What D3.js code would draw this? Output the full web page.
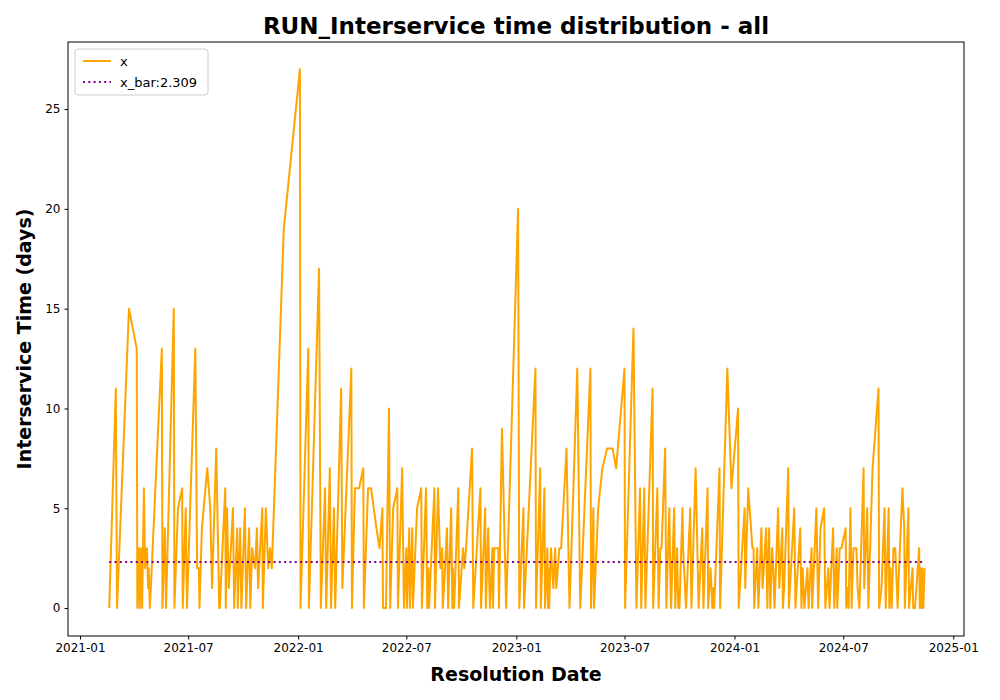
<!DOCTYPE html>
<html>
<head>
<meta charset="utf-8">
<script src="https://cdn.jsdelivr.net/npm/d3@7"></script>
<style>
body { margin: 0; background: #fff; }
text { font-family: "DejaVu Sans", sans-serif; }
</style>
</head>
<body>
<div id="chart"></div>
<script>
// days after 2021-01-01 and interservice time (days)
var dayOffsets = [49,60,62,82,95,96,99,100,102,104,107,109,112,114,115,117,137,138,142,144,157,158,164,171,172,177,179,193,196,199,200,204,213,218,221,228,233,234,243,244,246,249,256,258,263,264,268,270,276,278,283,285,288,293,296,298,305,306,311,315,318,321,341,368,369,382,383,400,403,410,412,418,420,425,427,437,439,454,455,460,467,474,475,482,487,496,501,506,507,512,517,519,524,531,532,539,542,546,547,551,552,556,557,564,571,572,579,581,583,584,593,594,599,603,606,607,609,614,616,621,623,624,626,633,634,641,643,646,656,658,670,671,678,679,683,685,686,690,691,693,700,701,706,713,733,735,742,743,762,763,770,771,777,778,782,783,784,785,788,792,795,797,802,805,814,819,832,837,854,855,859,860,867,874,882,891,897,911,912,926,931,937,939,944,946,958,959,966,968,971,973,979,981,986,988,989,994,996,999,1001,1003,1008,1009,1014,1021,1023,1030,1035,1041,1043,1050,1051,1055,1058,1060,1061,1070,1071,1083,1090,1101,1102,1112,1113,1118,1125,1127,1128,1133,1135,1140,1142,1148,1150,1153,1155,1158,1160,1162,1168,1170,1175,1176,1178,1185,1186,1195,1197,1205,1207,1209,1212,1217,1219,1224,1225,1232,1235,1239,1245,1247,1252,1254,1260,1262,1266,1267,1271,1274,1281,1282,1284,1286,1289,1291,1294,1299,1301,1304,1311,1312,1317,1319,1326,1336,1337,1341,1346,1348,1353,1354,1356,1358,1361,1364,1368,1369,1376,1379,1380,1386,1387,1393,1394,1397,1404,1405,1406,1408,1409,1411,1413];
var values = [0,11,0,15,13,0,3,0,3,0,6,2,3,1,2,0,13,0,4,0,15,0,5,6,0,5,0,13,2,2,0,4,7,5,1,8,0,0,6,0,5,1,5,0,4,0,4,0,5,0,4,0,3,2,4,1,5,0,5,2,3,2,19,27,0,13,0,17,0,6,0,7,0,5,0,11,1,12,0,6,6,7,0,6,6,4,3,5,0,0,10,0,5,6,0,7,0,3,0,4,0,4,0,5,6,0,6,0,2,0,6,0,6,2,3,0,1,4,0,5,0,2,0,6,0,3,2,3,8,0,6,0,5,0,4,1,0,3,0,3,3,0,9,0,20,0,5,0,12,0,7,0,6,0,3,0,2,0,3,1,3,1,3,3,8,0,12,0,12,0,5,0,5,7,8,8,7,12,0,14,0,6,0,6,0,11,0,6,0,3,3,8,0,5,1,0,5,0,3,0,0,5,3,0,5,0,7,0,4,0,6,0,2,0,1,0,7,0,12,6,10,0,5,1,6,3,3,0,3,0,4,1,4,0,4,0,3,2,0,5,1,4,0,1,7,0,5,0,4,0,2,0,2,0,3,0,5,0,4,5,0,2,0,4,0,3,0,3,3,4,0,1,0,5,0,3,3,1,0,7,1,5,0,7,11,0,1,5,0,5,0,2,0,3,3,0,1,6,4,0,5,0,2,0,0,3,0,2,0,2,0,2];
var xBar = 2.309;
var xTicks = ["2021-01","2021-07","2022-01","2022-07","2023-01","2023-07","2024-01","2024-07","2025-01"];
var yTicks = [0,5,10,15,20,25];

var width = 1000, height = 700;
var margin = {top: 42, right: 36, bottom: 64, left: 68};
var w = width - margin.left - margin.right;
var h = height - margin.top - margin.bottom;

var base = new Date(2021, 0, 1);
var data = dayOffsets.map(function(d, i) {
  return {date: d3.timeDay.offset(base, d), value: values[i]};
});

var svg = d3.select('#chart').append('svg')
  .attr('width', width).attr('height', height);
var g = svg.append('g').attr('transform', `translate(${margin.left},${margin.top})`);

var x = d3.scaleTime()
  .domain([new Date(2020, 11, 12), new Date(2025, 0, 19)])
  .range([0, w]);
var y = d3.scaleLinear().domain([-1.4, 28.36]).range([h, 0]);

var parseMonth = d3.timeParse('%Y-%m');
var xAxis = g.append('g').attr('transform', `translate(0,${h})`)
  .call(d3.axisBottom(x).tickValues(xTicks.map(parseMonth)).tickFormat(d3.timeFormat('%Y-%m')).tickSize(3.5).tickPadding(4));
var yAxis = g.append('g')
  .call(d3.axisLeft(y).tickValues(yTicks).tickSize(3.5).tickPadding(4));
[xAxis, yAxis].forEach(function(a) {
  a.selectAll('text').attr('font-size', 12).attr('fill', '#000').style('font-family', 'DejaVu Sans');
  a.select('.domain').remove();
  a.selectAll('line').attr('stroke', '#000');
});

// frame
g.append('rect').attr('width', w).attr('height', h)
  .attr('fill', 'none').attr('stroke', '#000').attr('stroke-width', 1);

var line = d3.line().x(function(d) { return x(d.date); }).y(function(d) { return y(d.value); });
g.append('path').datum(data).attr('d', line)
  .attr('fill', 'none').attr('stroke', 'orange').attr('stroke-width', 2).attr('stroke-linejoin', 'round');

var ext = d3.extent(data, function(d) { return d.date; });
g.append('line')
  .attr('x1', x(ext[0])).attr('x2', x(ext[1]))
  .attr('y1', y(xBar)).attr('y2', y(xBar))
  .attr('stroke', 'purple').attr('stroke-width', 2).attr('stroke-dasharray', '2,3.3');

// legend
var lg = g.append('g').attr('transform', 'translate(7,7)');
lg.append('rect').attr('width', 133).attr('height', 46).attr('rx', 3)
  .attr('fill', '#fff').attr('fill-opacity', 0.8).attr('stroke', '#ccc');
lg.append('line').attr('x1', 8).attr('x2', 36).attr('y1', 12).attr('y2', 12)
  .attr('stroke', 'orange').attr('stroke-width', 2);
lg.append('text').attr('x', 45).attr('y', 16.5).attr('font-size', 13).text('x');
lg.append('line').attr('x1', 8).attr('x2', 36).attr('y1', 33).attr('y2', 33)
  .attr('stroke', 'purple').attr('stroke-width', 2).attr('stroke-dasharray', '2,3.3');
lg.append('text').attr('x', 45).attr('y', 37.5).attr('font-size', 13).text('x_bar:' + xBar);

svg.append('text').attr('x', margin.left + w / 2).attr('y', 34)
  .attr('text-anchor', 'middle').attr('font-size', 23).attr('font-weight', 'bold')
  .text('RUN_Interservice time distribution - all');
svg.append('text').attr('x', margin.left + w / 2).attr('y', 681)
  .attr('text-anchor', 'middle').attr('font-size', 19).attr('font-weight', 'bold')
  .text('Resolution Date');
svg.append('text').attr('transform', `translate(31,${margin.top + h / 2}) rotate(-90)`)
  .attr('text-anchor', 'middle').attr('font-size', 19).attr('font-weight', 'bold')
  .text('Interservice Time (days)');
</script>
</body>
</html>
